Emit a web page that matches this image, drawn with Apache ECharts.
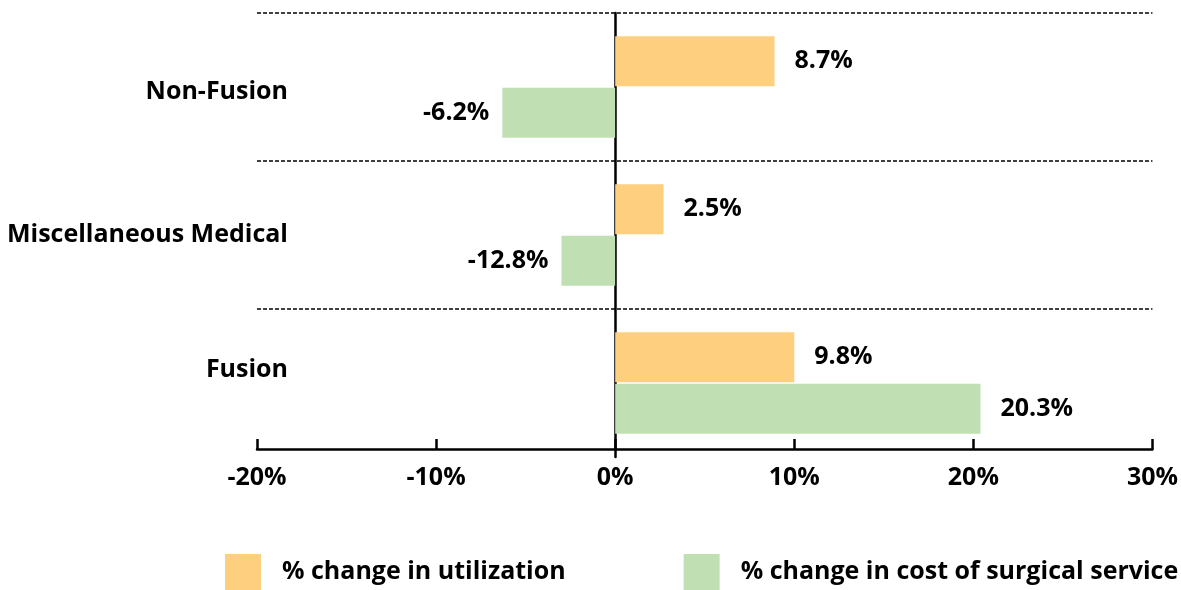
<!DOCTYPE html>
<html>
<head>
<meta charset="utf-8">
<script src="https://cdn.jsdelivr.net/npm/echarts@6/dist/echarts.min.js"></script>
<style>
  html, body { margin: 0; padding: 0; background: #fff; }
  #chart { width: 1181px; height: 590px; }
</style>
</head>
<body>
<div id="chart"></div>
<script>
const categories = ['Non-Fusion', 'Miscellaneous Medical', 'Fusion']
const seriesNames = ['% change in utilization', '% change in cost of surgical service']
// bar lengths as drawn in the picture
const utilization = [8.9, 2.7, 10.0]
const surgicalCost = [-6.3, -3.0, 20.4]
// value labels as printed next to the bars
const utilizationLabels = ['8.7%', '2.5%', '9.8%']
const surgicalCostLabels = ['-6.2%', '-12.8%', '20.3%']
const xTicks = [-20, -10, 0, 10, 20, 30]

const font = 'Open Sans'
const txt = { fontFamily: font, fontWeight: 'bold', fontSize: 25, color: '#000' }

function barData(values, labels) {
  return values.map((v, i) => ({
    value: v,
    label: {
      show: true,
      position: v < 0 ? 'left' : 'right',
      distance: v < 0 ? 13 : 20,
      formatter: labels[i],
      ...txt,
    },
  }))
}

const chart = echarts.init(document.getElementById('chart'))
chart.setOption({
  animation: false,
  grid: { left: 257, right: 28, top: 13, bottom: 133 },
  legend: {
    data: seriesNames,
    left: 225,
    top: 554,
    width: 1100,
    padding: 0,
    itemWidth: 36,
    itemHeight: 36,
    itemGap: 118,
    icon: 'rect',
    textStyle: { ...txt, padding: [0, 0, 0, 16] },
  },
  xAxis: {
    type: 'value',
    min: xTicks[0],
    max: xTicks[xTicks.length - 1],
    interval: 10,
    offset: -8,
    axisLine: { show: true, onZero: false, lineStyle: { color: '#000', width: 2.5 } },
    axisTick: { show: true, inside: true, length: 10, lineStyle: { color: '#000', width: 2.5 } },
    splitLine: { show: false },
    axisLabel: { ...txt, margin: 16, formatter: v => v + '%' },
  },
  yAxis: {
    type: 'category',
    data: categories,
    inverse: true,
    axisLine: { show: true, onZero: true, lineStyle: { color: '#000', width: 2.5 } },
    axisTick: { show: false },
    splitLine: {
      show: true,
      showMaxLine: false,
      lineStyle: { color: '#000', width: 1.5, type: [4, 2] },
    },
    axisLabel: {
      ...txt,
      margin: -31,
      formatter: v => v === 'Fusion' ? '{f|' + v + '}' : v === 'Non-Fusion' ? '{n|' + v + '}' : v,
      rich: {
        f: { ...txt, padding: [0, 0, 26, 0] },
        n: { ...txt, padding: [10, 0, 0, 0] },
      },
    },
  },
  series: [
    {
      name: seriesNames[0],
      type: 'bar',
      barWidth: 50,
      barGap: '3%',
      itemStyle: { color: '#FFCF80' },
      data: barData(utilization, utilizationLabels),
    },
    {
      name: seriesNames[1],
      type: 'bar',
      barWidth: 50,
      itemStyle: { color: '#C0E0B3' },
      data: barData(surgicalCost, surgicalCostLabels),
    },
  ],
})
</script>
</body>
</html>
